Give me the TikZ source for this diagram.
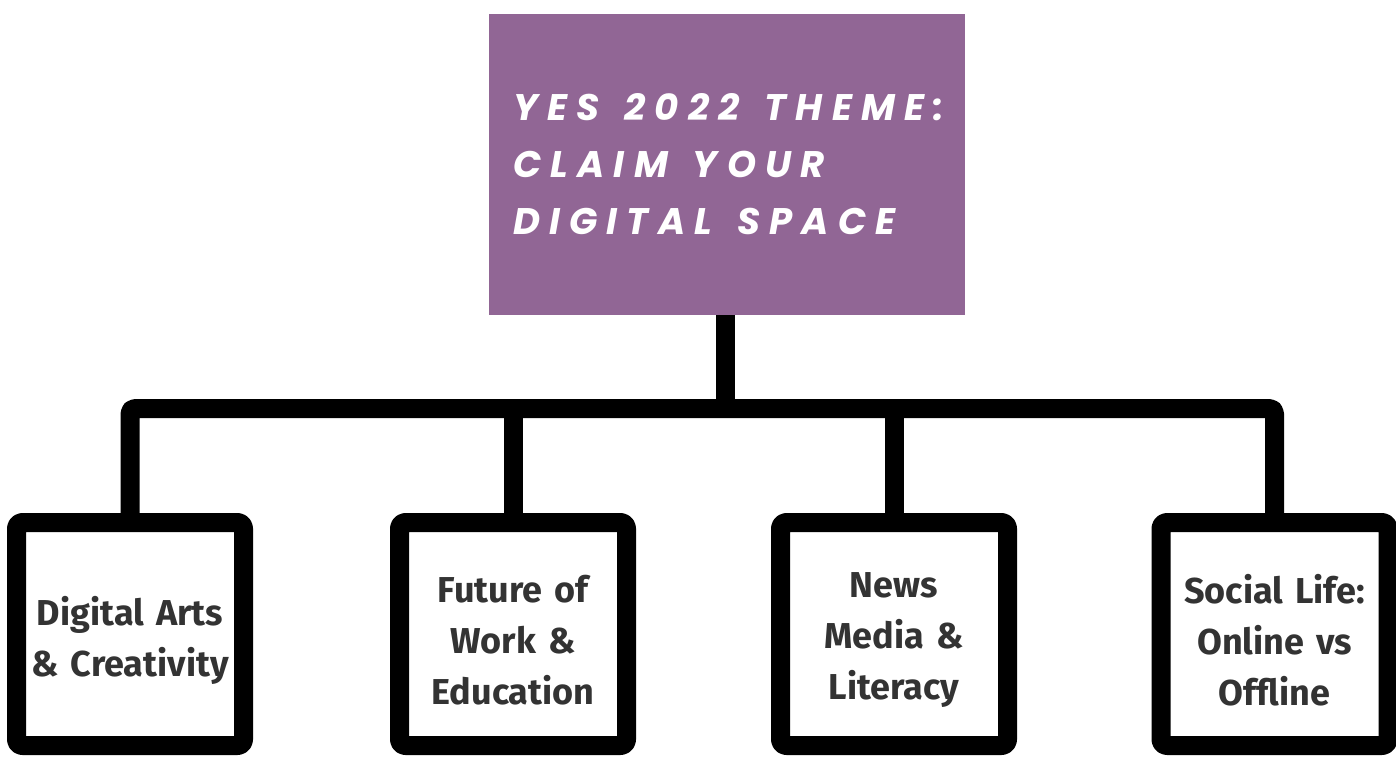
\documentclass[tikz,border=0pt]{standalone}
\usepackage{fontspec}
\setmainfont{Fira Sans}
\newfontfamily\themefont[LetterSpace=25]{Poppins}
\newcommand\themegap{\hbox to 25pt{}}
\usetikzlibrary{positioning}
\definecolor{themepurple}{HTML}{916695}
\definecolor{topictext}{HTML}{333333}
\begin{document}
\begin{tikzpicture}[x=1pt, y=-1pt, line join=round]
	\tikzset{
		themebox/.style={fill=themepurple, text=white, minimum width=476pt, minimum height=301pt, inner sep=0pt, text width=428pt, align=left, font=\themefont\bfseries\itshape\fontsize{37}{57}\selectfont},
		topicbox/.style={draw=black, line width=19pt, rounded corners=6pt, fill=white, minimum width=227pt, minimum height=223pt, inner sep=0pt},
		topiclabel/.style={inner sep=0pt, text width=205pt, align=center, text=topictext, font=\bfseries\fontsize{36}{51}\selectfont},
		link/.style={line width=19pt, rounded corners=5pt}
	}
	\useasboundingbox (0,0) rectangle (1396,756);
	\node[themebox] (theme) at (727,164.5) {YES\themegap 2022\themegap THEME:\\CLAIM\themegap YOUR\\DIGITAL\themegap SPACE};
	\foreach \cx/\nm/\txt in {130/arts/{Digital Arts\\\& Creativity}, 513/work/{Future of\\Work \&\\Education}, 894/news/{News\\Media \&\\Literacy}, 1274.5/social/{Social Life:\\Online vs\\Offline}}{
		\node[topicbox] (\nm) at (\cx,634) {};
		\node[topiclabel] (\nm-label) at ([yshift=-6pt]\nm.center) {\txt};
	}
	\coordinate (hub) at (725,408.5);
	\draw[link] (hub |- theme.south) -- (hub);
	\draw[link] (arts.north) |- (hub) -| (social.north);
	\foreach \nm in {work,news}
		\draw[link] (\nm.north) -- (\nm.north |- hub);
\end{tikzpicture}
\end{document}
